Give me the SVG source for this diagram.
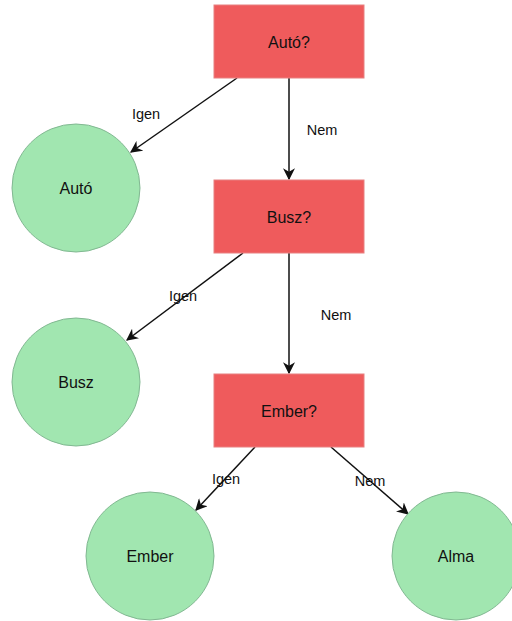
<svg xmlns="http://www.w3.org/2000/svg" width="512" height="621" viewBox="0 0 512 621">
<style>
.q{fill:#EF5B5C;stroke:#E88080;stroke-width:1}
.a{fill:#A1E6B0;stroke:#82B892;stroke-width:1}
.t{font-family:"Liberation Sans",Arial,sans-serif;font-size:16px;fill:#111;text-anchor:middle;dominant-baseline:central}
.l{font-family:"Liberation Sans",Arial,sans-serif;font-size:14.5px;fill:#111;text-anchor:middle;dominant-baseline:central}
.e{stroke:#111;stroke-width:1.5;fill:none;marker-end:url(#ah)}
</style>
<defs>
<marker id="ah" viewBox="0 0 10 10" refX="9" refY="5" markerWidth="12" markerHeight="12" markerUnits="userSpaceOnUse" orient="auto">
<path d="M0,0 L10,5 L0,10 L3,5 Z" fill="#111"/>
</marker>
</defs>
<rect width="512" height="621" fill="#fff"/>
<g id="edges">
<line class="e" x1="237" y1="78" x2="131" y2="152"/>
<line class="e" x1="289" y1="78" x2="289" y2="179"/>
<line class="e" x1="243" y1="253" x2="127" y2="340"/>
<line class="e" x1="289" y1="253" x2="289" y2="373"/>
<line class="e" x1="255" y1="447" x2="196" y2="510"/>
<line class="e" x1="331" y1="447" x2="408" y2="514"/>
<text class="l" x="146" y="114">Igen</text>
<text class="l" x="322" y="130">Nem</text>
<text class="l" x="183" y="296">Igen</text>
<text class="l" x="336" y="315">Nem</text>
<text class="l" x="226" y="479">Igen</text>
<text class="l" x="370" y="481">Nem</text>
</g>
<g id="n1"><rect class="q" x="214" y="5" width="150" height="73"/><text class="t" x="289" y="42">Autó?</text></g>
<g id="n2"><rect class="q" x="214" y="180" width="150" height="73"/><text class="t" x="289" y="217">Busz?</text></g>
<g id="n3"><rect class="q" x="214" y="374" width="150" height="73"/><text class="t" x="289" y="411">Ember?</text></g>
<g id="n4"><circle class="a" cx="76" cy="188" r="64"/><text class="t" x="76" y="188">Autó</text></g>
<g id="n5"><circle class="a" cx="76" cy="382" r="64"/><text class="t" x="76" y="382">Busz</text></g>
<g id="n6"><circle class="a" cx="150" cy="556" r="64"/><text class="t" x="150" y="556">Ember</text></g>
<g id="n7"><circle class="a" cx="456" cy="556" r="64"/><text class="t" x="456" y="556">Alma</text></g>
</svg>
